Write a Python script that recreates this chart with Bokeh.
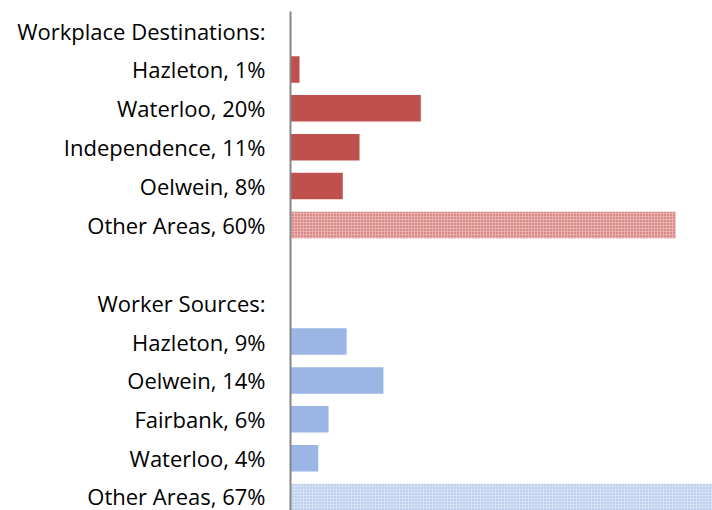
from bokeh.plotting import figure
from bokeh.models import Range1d, FixedTicker
from bokeh.embed import file_html
from bokeh.resources import INLINE

labels = ["Workplace Destinations:", "Hazleton, 1%", "Waterloo, 20%", "Independence, 11%",
          "Oelwein, 8%", "Other Areas, 60%", "", "Worker Sources:", "Hazleton, 9%",
          "Oelwein, 14%", "Fairbank, 6%", "Waterloo, 4%", "Other Areas, 67%"]

dest_names = ["Hazleton", "Waterloo", "Independence", "Oelwein"]
dest_values = [1.4, 20.2, 10.7, 8.1]
dest_other = 59.7

src_names = ["Hazleton", "Oelwein", "Fairbank", "Waterloo"]
src_values = [8.7, 14.4, 5.9, 4.3]
src_other = 67.0

RED = "#C0504D"
BLUE = "#9BB5E4"

p = figure(width=712, height=510, output_backend="svg", toolbar_location=None,
           x_range=Range1d(0, 65.4), y_range=Range1d(12.345, -0.49),
           x_axis_location=None, min_border_left=290, min_border_right=0,
           min_border_top=11, min_border_bottom=0)
p.outline_line_color = None
p.xgrid.visible = False
p.ygrid.visible = False
p.background_fill_color = "white"

dest_y = [1, 2, 3, 4]
src_y = [8, 9, 10, 11]

p.hbar(y=dest_y, right=dest_values, left=0, height=0.68, fill_color=RED, line_color=None)
p.hbar(y=[5], right=[dest_other], left=0, height=0.68, fill_color="#E8B0AE",
       line_color=None, hatch_pattern="dot", hatch_color=RED, hatch_scale=3, hatch_weight=1.2)
p.hbar(y=src_y, right=src_values, left=0, height=0.68, fill_color=BLUE, line_color=None)
p.hbar(y=[12], right=[src_other], left=0, height=0.68, fill_color="#D6E1F6",
       line_color=None, hatch_pattern="dot", hatch_color=BLUE, hatch_scale=3, hatch_weight=1.2)

ax = p.yaxis[0]
ax.ticker = FixedTicker(ticks=list(range(len(labels))))
ax.major_label_overrides = {i: (t if t else " ") for i, t in enumerate(labels)}
ax.major_tick_line_color = None
ax.minor_tick_line_color = None
ax.axis_line_color = "#868686"
ax.axis_line_width = 2
ax.major_label_text_font = "Open Sans"
ax.major_label_text_font_size = "22px"
ax.major_label_text_color = "#000000"
ax.major_label_standoff = 19

open("out.html", "w").write(file_html(p, INLINE))
